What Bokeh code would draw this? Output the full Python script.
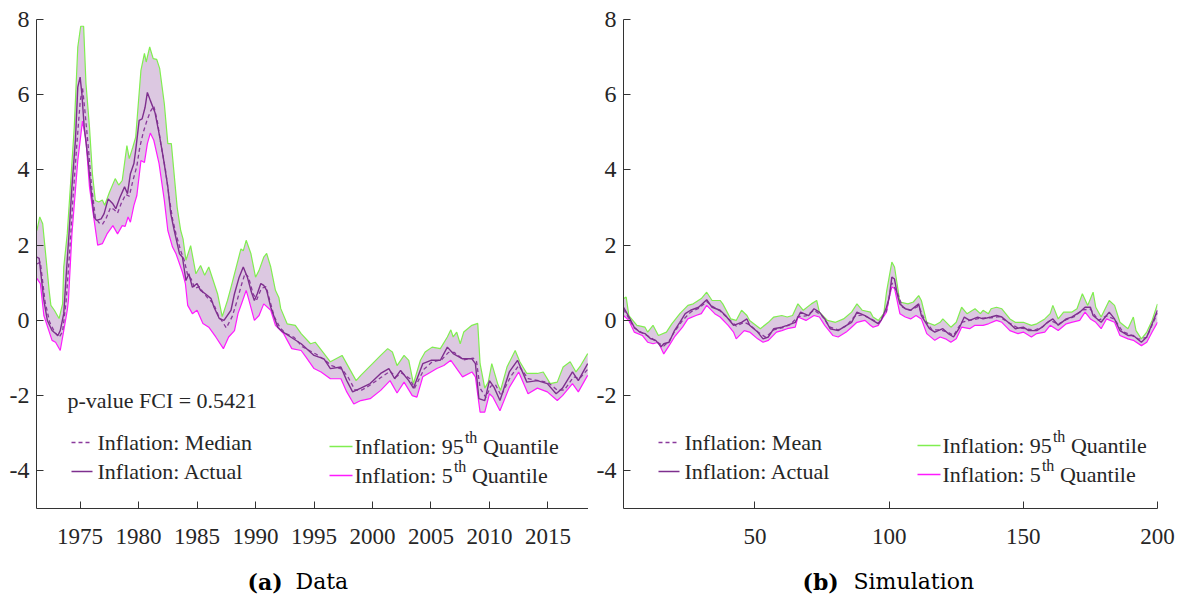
from bokeh.plotting import figure
from bokeh.models import Range1d, FixedTicker, Label, PrintfTickFormatter
from bokeh.layouts import row, column
from bokeh.embed import file_html
from bokeh.resources import INLINE

# ---------------- Panel (a): Data ----------------
act_a_x = [1971.3, 1971.5, 1971.9, 1972.2, 1972.6, 1973.1, 1973.3, 1973.6, 1973.8, 1974.05, 1974.3, 1974.6,
           1974.8, 1975.0, 1975.15, 1975.35, 1975.65, 1975.9, 1976.2, 1976.4, 1976.8, 1977.05, 1977.4, 1977.8,
           1978.05, 1978.4, 1978.8, 1979.05, 1979.3, 1979.6, 1979.75, 1980.05, 1980.3, 1980.55, 1980.75, 1981.0,
           1981.4, 1981.75, 1982.1, 1982.5, 1982.75, 1983.05, 1983.5, 1983.75, 1984.05, 1984.3, 1984.6, 1985.0,
           1985.3, 1985.7, 1986.2, 1986.45, 1986.9, 1987.3, 1987.9, 1988.2, 1988.6, 1988.95, 1989.3, 1989.65,
           1989.9, 1990.15, 1990.45, 1990.7, 1990.95, 1991.3, 1991.9, 1992.3, 1993.0, 1993.9, 1995.0, 1995.85,
           1996.4, 1997.3, 1997.8, 1998.3, 1999.0, 1999.8, 2000.7, 2001.4, 2001.9, 2002.4, 2003.1, 2003.5,
           2004.3, 2005.0, 2005.8, 2006.4, 2006.9, 2007.7, 2008.5, 2008.8, 2009.1, 2009.6, 2010.0, 2010.4,
           2010.9, 2011.7, 2012.4, 2013.2, 2014.1, 2014.95, 2015.7, 2016.25, 2017.1, 2017.6, 2018.4]
act_a_y = [1.68, 1.65, 0.53, 0.0, -0.27, -0.4, -0.27, 0.18, 1.15, 2.3, 3.55, 4.8,
           6.2, 6.47, 6.03, 5.14, 4.35, 3.55, 2.75, 2.66, 2.7, 2.84, 3.23, 3.1,
           2.97, 3.27, 3.55, 3.37, 3.9, 4.17, 4.52, 5.32, 5.36, 5.66, 6.06, 5.85,
           5.53, 4.97, 4.35, 3.55, 2.84, 2.39, 1.77, 1.68, 1.06, 1.24, 0.88, 0.98,
           0.8, 0.71, 0.58, 0.35, 0.05, 0.0, 0.27, 0.71, 1.15, 1.42, 1.15, 0.75,
           0.53, 0.71, 0.98, 0.93, 0.8, 0.35, -0.18, -0.3, -0.44, -0.62, -0.93, -1.02,
           -1.28, -1.24, -1.6, -1.9, -1.8, -1.68, -1.41, -1.28, -1.55, -1.33, -1.6, -1.8,
           -1.15, -1.06, -1.06, -0.71, -0.88, -1.02, -1.02, -1.15, -2.08, -2.13, -1.6, -1.78,
           -2.13, -1.37, -1.06, -1.64, -1.6, -1.68, -1.95, -1.8, -1.37, -1.6, -1.15]

med_a_x = [1971.3, 1971.6, 1972.0, 1972.4, 1972.8, 1973.2, 1973.5, 1973.8, 1974.1, 1974.4, 1974.7, 1975.0,
           1975.2, 1975.4, 1975.7, 1976.0, 1976.3, 1976.6, 1976.9, 1977.2, 1977.6, 1977.9, 1978.2, 1978.5,
           1978.9, 1979.2, 1979.5, 1979.85, 1980.1, 1980.4, 1980.7, 1981.0, 1981.3, 1981.6, 1981.9, 1982.3,
           1982.6, 1982.9, 1983.2, 1983.6, 1983.9, 1984.2, 1984.5, 1984.8, 1985.2, 1985.5, 1985.9, 1986.4,
           1986.8, 1987.2, 1987.5, 1988.0, 1988.4, 1988.8, 1989.1, 1989.4, 1989.8, 1990.1, 1990.5, 1990.9,
           1991.2, 1991.6, 1992.1, 1992.6, 1993.3, 1994.0, 1994.6, 1995.2, 1995.9, 1996.5, 1997.4, 1997.9,
           1998.5, 1999.1, 1999.9, 2000.8, 2001.5, 2002.0, 2002.5, 2003.2, 2003.6, 2004.4, 2005.1, 2005.9,
           2006.5, 2007.0, 2007.8, 2008.6, 2008.9, 2009.2, 2009.7, 2010.1, 2010.5, 2011.0, 2011.8, 2012.5,
           2013.3, 2014.2, 2015.0, 2015.8, 2016.4, 2017.2, 2017.7, 2018.4]
med_a_y = [1.5, 1.55, 0.5, -0.05, -0.3, -0.45, -0.3, 0.5, 1.8, 3.3, 4.6, 5.8,
           6.2, 5.6, 4.6, 3.5, 2.75, 2.6, 2.55, 2.7, 3.0, 2.95, 2.85, 3.1,
           3.35, 3.3, 3.7, 4.1, 4.6, 5.0, 5.3, 5.55, 5.7, 5.3, 4.7, 4.0,
           3.3, 2.7, 2.3, 1.85, 1.6, 1.2, 1.1, 0.85, 0.9, 0.75, 0.6, 0.45,
           0.15, -0.05, -0.2, 0.1, 0.5, 0.95, 1.25, 1.15, 0.7, 0.55, 0.85, 0.9,
           0.55, 0.1, -0.2, -0.35, -0.45, -0.7, -0.8, -0.9, -1.05, -1.2, -1.3, -1.5,
           -1.85, -1.85, -1.7, -1.5, -1.35, -1.5, -1.4, -1.55, -1.8, -1.3, -1.1, -1.05,
           -0.85, -0.85, -1.05, -1.0, -1.1, -1.8, -2.05, -1.75, -1.7, -2.0, -1.5, -1.2,
           -1.55, -1.6, -1.65, -1.85, -1.85, -1.5, -1.55, -1.3]

q95_a_x = [1971.3, 1971.55, 1971.8, 1972.05, 1972.35, 1972.5, 1972.8, 1973.2, 1973.5, 1973.6, 1973.9, 1974.2,
           1974.5, 1974.8, 1975.05, 1975.3, 1975.5, 1975.8, 1976.05, 1976.3, 1976.6, 1976.9, 1977.1, 1977.5,
           1978.0, 1978.3, 1978.6, 1979.0, 1979.2, 1979.5, 1979.75, 1980.2, 1980.5, 1980.65, 1980.95, 1981.25,
           1981.55, 1981.8, 1982.2, 1982.5, 1982.8, 1983.3, 1983.6, 1983.8, 1984.05, 1984.45, 1984.9, 1985.3,
           1985.65, 1986.0, 1986.75, 1987.15, 1987.6, 1987.9, 1988.75, 1988.95, 1989.2, 1989.6, 1990.0, 1990.3,
           1990.7, 1990.95, 1991.3, 1991.7, 1992.0, 1992.15, 1992.7, 1993.4, 1993.9, 1994.7, 1995.1, 1996.4,
           1997.4, 1998.6, 1999.0, 2000.0, 2000.7, 2001.3, 2001.7, 2002.1, 2002.7, 2003.1, 2003.5, 2004.1,
           2004.5, 2005.1, 2005.8, 2006.4, 2006.7, 2006.9, 2007.2, 2007.5, 2007.8, 2008.5, 2009.0, 2009.2,
           2009.6, 2009.9, 2010.2, 2010.7, 2010.95, 2011.5, 2012.2, 2012.6, 2013.2, 2014.1, 2014.6, 2015.2,
           2015.8, 2016.3, 2016.9, 2017.4, 2017.8, 2018.4]
q95_a_y = [2.39, 2.75, 2.57, 1.77, 0.8, 0.4, 0.27, 0.05, 0.44, 1.42, 2.3, 3.72,
           5.14, 7.27, 7.82, 7.82, 6.3, 5.14, 3.9, 3.19, 3.15, 3.2, 3.06, 3.4,
           3.77, 3.6, 3.72, 4.65, 4.3, 4.6, 4.87, 6.65, 7.1, 6.87, 7.27, 6.96,
           6.94, 6.7, 5.76, 4.7, 4.7, 3.0, 2.39, 2.17, 1.6, 1.99, 1.24, 1.46,
           1.2, 1.42, 0.71, 0.1, 0.53, 0.88, 1.9, 1.85, 2.13, 1.78, 1.15, 1.33,
           1.68, 1.78, 1.42, 0.8, 0.6, 0.32, -0.09, -0.13, -0.35, -0.62, -0.58, -1.1,
           -0.93, -1.6, -1.46, -1.15, -0.93, -0.75, -0.84, -1.2, -0.93, -1.06, -1.68, -1.06,
           -0.84, -0.71, -0.75, -0.44, -0.25, -0.44, -0.31, -0.62, -0.31, -0.13, -0.08, -1.15,
           -1.8, -1.64, -1.15, -1.68, -1.86, -1.24, -0.8, -1.1, -1.41, -1.41, -1.37, -1.68,
           -1.64, -1.24, -1.1, -1.37, -1.2, -0.88]

q05_a_x = [1971.3, 1971.6, 1971.9, 1972.6, 1972.9, 1973.3, 1973.6, 1973.9, 1974.0, 1974.3, 1974.8, 1975.2,
           1975.5, 1975.8, 1976.2, 1976.5, 1976.9, 1977.3, 1977.8, 1978.2, 1978.6, 1978.85, 1979.1, 1979.3,
           1979.6, 1979.85, 1980.2, 1980.5, 1980.75, 1981.0, 1981.3, 1981.75, 1982.2, 1982.5, 1982.9, 1983.2,
           1983.75, 1984.0, 1984.2, 1984.6, 1985.0, 1985.5, 1986.0, 1986.6, 1987.25, 1987.7, 1988.2, 1988.5,
           1988.9, 1989.2, 1989.4, 1989.9, 1990.3, 1990.7, 1991.3, 1991.7, 1992.4, 1993.1, 1993.9, 1994.3,
           1995.0, 1995.6, 1996.4, 1997.3, 1997.8, 1998.4, 1999.0, 1999.8, 2000.7, 2001.5, 2002.1, 2002.7,
           2003.4, 2003.8, 2004.3, 2005.0, 2005.5, 2006.1, 2006.7, 2007.7, 2008.5, 2008.8, 2009.2, 2009.6,
           2010.0, 2010.3, 2010.9, 2011.7, 2012.5, 2013.3, 2014.1, 2014.95, 2015.8, 2016.25, 2017.1, 2017.6,
           2018.4]
q05_a_y = [1.12, 0.98, 0.13, -0.53, -0.58, -0.8, -0.27, 0.27, 0.53, 2.3, 4.25, 5.3,
           4.8, 3.55, 2.66, 2.0, 2.04, 2.3, 2.52, 2.3, 2.52, 2.5, 2.75, 2.61,
           3.06, 3.32, 4.25, 4.2, 4.7, 4.98, 4.79, 4.17, 3.19, 2.39, 1.95, 1.77,
           1.28, 0.98, 0.4, 0.18, 0.27, -0.08, -0.18, -0.44, -0.75, -0.44, -0.27, 0.18,
           0.53, 0.8, 0.58, 0.0, 0.13, 0.44, 0.27, -0.13, -0.35, -0.75, -0.8, -0.97,
           -1.28, -1.37, -1.55, -1.55, -1.9, -2.22, -2.13, -2.08, -1.86, -1.6, -1.93, -1.64,
           -2.0, -2.04, -1.5, -1.37, -1.28, -1.2, -1.06, -1.5, -1.37, -1.5, -2.44, -2.44,
           -1.95, -2.04, -2.4, -1.78, -1.37, -1.95, -1.8, -1.9, -2.13, -2.0, -1.68, -1.9,
           -1.46]

# ---------------- Panel (b): Simulation ----------------
act_b_x = [1, 3, 5, 7, 9, 11, 13, 15, 16, 18, 20, 22, 24, 26, 29, 32, 34, 37, 39, 42, 45, 47, 48, 51,
           53, 55, 57, 60, 62, 65, 67, 70, 72, 74, 76, 78, 81, 83, 86, 88, 91, 93, 96, 97, 99, 100,
           101, 102, 103, 104, 106, 108, 111, 112, 115, 117, 120, 122, 124, 126, 128, 130, 133, 135, 138, 140,
           142, 145, 147, 150, 152, 155, 157, 159, 161, 163, 166, 168, 171, 173, 175, 176, 179, 182, 184, 186,
           189, 191, 194, 196, 198, 200]
act_b_y = [0.35, 0.1, -0.18, -0.31, -0.35, -0.48, -0.53, -0.7, -0.62, -0.58, -0.27, -0.05, 0.18, 0.27, 0.35, 0.55,
           0.35, 0.27, 0.13, -0.13, -0.05, 0.04, -0.13, -0.31, -0.49, -0.44, -0.22, -0.18, -0.13, -0.05, 0.22, 0.13,
           0.31, 0.22, 0.04, -0.22, -0.27, -0.18, -0.05, 0.22, 0.13, 0.04, -0.09, 0.0, 0.35, 0.6,
           1.15, 1.1, 0.7, 0.44, 0.31, 0.27, 0.44, 0.13, -0.22, -0.31, -0.22, -0.35, -0.44, -0.22, 0.09, 0.0,
           0.09, 0.04, 0.09, 0.13, 0.09, -0.09, -0.22, -0.18, -0.27, -0.27, -0.18, -0.05, 0.04, -0.13, 0.04, 0.09,
           0.22, 0.35, 0.35, 0.13, -0.05, 0.22, 0.04, -0.27, -0.4, -0.4, -0.58, -0.44, -0.09, 0.27]

mean_b_x = [1, 3, 5, 8, 11, 14, 16, 18, 20, 23, 26, 29, 32, 34, 37, 40, 43, 46, 48, 51, 54, 57, 60, 63,
            66, 69, 72, 75, 78, 81, 84, 87, 90, 93, 96, 99, 101, 103, 105, 108, 111, 113, 116, 119, 122, 124,
            127, 130, 134, 138, 141, 145, 148, 151, 154, 157, 160, 163, 166, 169, 172, 175, 178, 181, 184, 187,
            190, 193, 196, 198, 200]
mean_b_y = [0.3, 0.05, -0.2, -0.33, -0.45, -0.6, -0.68, -0.55, -0.3, 0.0, 0.22, 0.32, 0.5, 0.38, 0.25, 0.05,
            -0.15, -0.05, -0.12, -0.3, -0.45, -0.25, -0.2, -0.12, 0.1, 0.12, 0.27, 0.12, -0.18, -0.25, -0.15, 0.1,
            0.15, 0.05, -0.07, 0.25, 1.0, 0.75, 0.35, 0.27, 0.38, 0.05, -0.25, -0.25, -0.32, -0.4,
            -0.05, 0.0, 0.06, 0.07, 0.1, -0.08, -0.2, -0.22, -0.26, -0.18, 0.0, -0.1, 0.02, 0.1, 0.28, 0.3,
            0.0, 0.12, 0.03, -0.3, -0.38, -0.5, -0.45, -0.12, 0.2]

q95_b_x = [1, 2, 3, 6, 9, 10, 12, 14, 17, 19, 22, 25, 27, 30, 32, 34, 37, 38, 41, 43, 45, 47, 48, 52,
           55, 57, 60, 62, 64, 66, 68, 71, 73, 74, 77, 80, 83, 86, 88, 90, 93, 94, 96, 98, 99, 100,
           101, 102, 104, 107, 109, 111, 112, 114, 117, 119, 120, 123, 125, 127, 129, 132, 134, 135, 137, 138,
           140, 142, 145, 147, 150, 153, 155, 158, 160, 161, 163, 165, 168, 170, 172, 174, 176, 177, 179, 182,
           184, 186, 189, 191, 192, 194, 196, 198, 200]
q95_b_y = [0.58, 0.62, 0.13, -0.13, -0.18, -0.31, -0.13, -0.4, -0.31, -0.09, 0.18, 0.4, 0.44, 0.58, 0.75, 0.53,
           0.53, 0.44, 0.04, 0.0, 0.27, 0.13, 0.0, -0.22, -0.05, 0.09, 0.13, 0.09, 0.13, 0.44, 0.27, 0.44,
           0.53, 0.22, 0.0, -0.05, 0.04, 0.22, 0.44, 0.27, 0.22, 0.09, 0.0, 0.18, 0.75, 1.15,
           1.55, 1.42, 0.49, 0.44, 0.49, 0.66, 0.53, -0.05, -0.13, -0.05, 0.04, -0.18, -0.05, 0.35, 0.18, 0.31,
           0.18, 0.27, 0.18, 0.31, 0.35, 0.31, 0.04, -0.05, -0.05, -0.13, -0.09, 0.04, 0.18, 0.4, 0.04, 0.22,
           0.22, 0.31, 0.71, 0.4, 0.75, 0.35, 0.09, 0.53, 0.4, -0.05, -0.22, 0.09, -0.27, -0.49, -0.31, 0.0, 0.44]

q05_b_x = [1, 3, 5, 8, 10, 12, 14, 16, 18, 20, 23, 25, 28, 30, 32, 35, 37, 40, 42, 43, 46, 48, 51, 53,
           55, 58, 60, 62, 65, 66, 69, 72, 74, 76, 79, 81, 84, 86, 88, 91, 93, 94, 96, 97, 99, 100,
           101, 102, 104, 106, 108, 110, 112, 114, 117, 119, 121, 123, 125, 127, 130, 132, 135, 137, 140, 142,
           145, 148, 150, 153, 155, 158, 160, 163, 166, 168, 171, 173, 175, 177, 179, 181, 184, 186, 189, 191,
           194, 196, 198, 200]
q05_b_y = [0.13, 0.0, -0.31, -0.4, -0.58, -0.62, -0.58, -0.89, -0.67, -0.44, -0.18, 0.04, 0.13, 0.18, 0.4, 0.18,
           0.09, -0.13, -0.31, -0.49, -0.27, -0.31, -0.49, -0.58, -0.53, -0.31, -0.27, -0.22, -0.18, 0.09, 0.0, 0.13,
           0.09, -0.13, -0.4, -0.44, -0.31, -0.18, -0.05, 0.0, -0.13, -0.18, -0.13, 0.0, 0.22, 0.6,
           0.89, 0.85, 0.18, 0.09, 0.04, 0.13, 0.04, -0.35, -0.53, -0.44, -0.49, -0.58, -0.49, -0.18, -0.22, -0.13,
           -0.13, -0.09, 0.0, -0.05, -0.27, -0.35, -0.31, -0.44, -0.35, -0.31, -0.13, -0.27, -0.09, -0.05, 0.0, 0.22,
           0.04, -0.05, -0.22, 0.04, -0.05, -0.4, -0.49, -0.53, -0.67, -0.58, -0.31, -0.05]

ticks_a = [1975, 1980, 1985, 1990, 1995, 2000, 2005, 2010, 2015]
ticks_b = [50, 100, 150, 200]
ticks_y = [-4, -2, 0, 2, 4, 6, 8]

# ---------------- styling ----------------
SERIF = "'Liberation Serif', 'Times New Roman', serif"
CAPF = "'DejaVu Serif', serif"
GREEN = "#80ee50"
MAGENTA = "#ff1aff"
PURPLE = "#7e2f8e"
DASHC = "#8a3a9c"
FILL = "#dcc8e1"
AXC = "#333333"
TXT = "#262626"

FH = 489
TOP = 19          # frame top (window px)
BOTTOM = 40
Y0, Y1 = -5, 8


def make_panel(xr, ticks, fw, left, right):
    p = figure(frame_width=fw, frame_height=FH, x_range=Range1d(*xr), y_range=Range1d(Y0, Y1),
               output_backend="svg", toolbar_location=None,
               min_border_left=left, min_border_right=right, min_border_top=TOP, min_border_bottom=BOTTOM)
    p.outline_line_color = None
    p.grid.visible = False
    p.background_fill_color = "white"
    p.border_fill_color = "white"
    p.xaxis.ticker = FixedTicker(ticks=ticks)
    p.yaxis.ticker = FixedTicker(ticks=ticks_y)
    p.xaxis.formatter = PrintfTickFormatter(format="%d")
    p.yaxis.formatter = PrintfTickFormatter(format="%d")
    for ax in (p.xaxis, p.yaxis):
        ax.axis_line_color = AXC
        ax.axis_line_width = 1
        ax.major_tick_line_color = AXC
        ax.major_tick_in = 7
        ax.major_tick_out = 0
        ax.minor_tick_line_color = None
        ax.major_label_text_font = SERIF
        ax.major_label_text_color = TXT
    p.xaxis.major_label_text_font_size = "23px"
    p.yaxis.major_label_text_font_size = "24px"
    p.xaxis.major_label_standoff = 20
    p.yaxis.major_label_standoff = 7
    return p


def draw_band(p, x95, y95, x05, y05, xa, ya, xm, ym):
    p.patch(list(x95) + list(x05)[::-1], list(y95) + list(y05)[::-1],
            fill_color=FILL, line_color=None)
    p.line(x95, y95, line_color=GREEN, line_width=1.2)
    p.line(x05, y05, line_color=MAGENTA, line_width=1.2)
    p.line(xm, ym, line_color=DASHC, line_width=1.3, line_dash="4 3")
    p.line(xa, ya, line_color=PURPLE, line_width=1.4)


def converters(xr, fw, frame_left_win):
    def fx(wx):
        return xr[0] + (wx - frame_left_win) * (xr[1] - xr[0]) / fw

    def fy(wy):
        return Y1 - (wy - TOP) * (Y1 - Y0) / FH
    return fx, fy


def legend(p, fx, fy, first_label, lx, ly, rx, ry):
    fs = "22px"
    p.line([fx(lx), fx(lx + 21)], [fy(ly), fy(ly)], line_color=DASHC, line_width=1.3, line_dash="4 3")
    p.add_layout(Label(x=fx(lx + 26), y=fy(ly), text=first_label, text_font=SERIF,
                       text_font_size=fs, text_baseline="middle", text_color=TXT))
    p.line([fx(lx), fx(lx + 21)], [fy(ly + 29), fy(ly + 29)], line_color=PURPLE, line_width=1.4)
    p.add_layout(Label(x=fx(lx + 26), y=fy(ly + 29), text="Inflation: Actual", text_font=SERIF,
                       text_font_size=fs, text_baseline="middle", text_color=TXT))
    for dy, col, num, wnum in ((0, GREEN, "95", 109.4), (29, MAGENTA, "5", 98.4)):
        yy = ry + dy
        p.line([fx(rx), fx(rx + 23)], [fy(yy), fy(yy)], line_color=col, line_width=1.3)
        tx = rx + 25
        p.add_layout(Label(x=fx(tx), y=fy(yy), text="Inflation: " + num, text_font=SERIF,
                           text_font_size=fs, text_baseline="middle", text_color=TXT))
        p.add_layout(Label(x=fx(tx + wnum + 1), y=fy(yy - 9), text="th", text_font=SERIF,
                           text_font_size="16px", text_baseline="middle", text_color=TXT))
        p.add_layout(Label(x=fx(tx + wnum + 19), y=fy(yy), text="Quantile", text_font=SERIF,
                           text_font_size=fs, text_baseline="middle", text_color=TXT))


# Panel a
XR_A = (1971.27, 2018.47)
FW_A = 552
LEFT_A, RIGHT_A = 36, 0
pa = make_panel(XR_A, ticks_a, FW_A, LEFT_A, RIGHT_A)
draw_band(pa, q95_a_x, q95_a_y, q05_a_x, q05_a_y, act_a_x, act_a_y, med_a_x, med_a_y)
fxa, fya = converters(XR_A, FW_A, LEFT_A)
pa.add_layout(Label(x=fxa(67), y=fya(400), text="p-value FCI = 0.5421", text_font=SERIF,
                    text_font_size="22px", text_baseline="middle", text_color=TXT))
legend(pa, fxa, fya, "Inflation: Median", 71, 442, 329, 446)

# Panel b
XR_B = (1, 200)
FW_B = 534
LEFT_B, RIGHT_B = 35, 24
pb = make_panel(XR_B, ticks_b, FW_B, LEFT_B, RIGHT_B)
draw_band(pb, q95_b_x, q95_b_y, q05_b_x, q05_b_y, act_b_x, act_b_y, mean_b_x, mean_b_y)
fxb, fyb = converters(XR_B, FW_B, LEFT_A + FW_A + RIGHT_A + LEFT_B)
legend(pb, fxb, fyb, "Inflation: Mean", 658, 442, 917, 445)

# Captions (separate strip below the two panels)
CAP_W = LEFT_A + FW_A + RIGHT_A + LEFT_B + FW_B + RIGHT_B
MAIN_H = TOP + FH + BOTTOM
CAP_H = 597 - MAIN_H
cap = figure(width=CAP_W, height=CAP_H, x_range=Range1d(0, CAP_W), y_range=Range1d(CAP_H, 0),
             output_backend="svg", toolbar_location=None, min_border=0)
cap.axis.visible = False
cap.grid.visible = False
cap.outline_line_color = None
cy = 581 - MAIN_H
for txt, xpos, style in (("(a)", 247, "bold"), ("Data", 295, "normal"),
                         ("(b)", 802, "bold"), ("Simulation", 853, "normal")):
    cap.add_layout(Label(x=xpos, y=cy, text=txt, text_font=CAPF, text_font_style=style,
                         text_font_size="22px", text_baseline="middle", text_color="black"))

layout = column(row(pa, pb), cap)
open("out.html", "w").write(file_html(layout, INLINE))
